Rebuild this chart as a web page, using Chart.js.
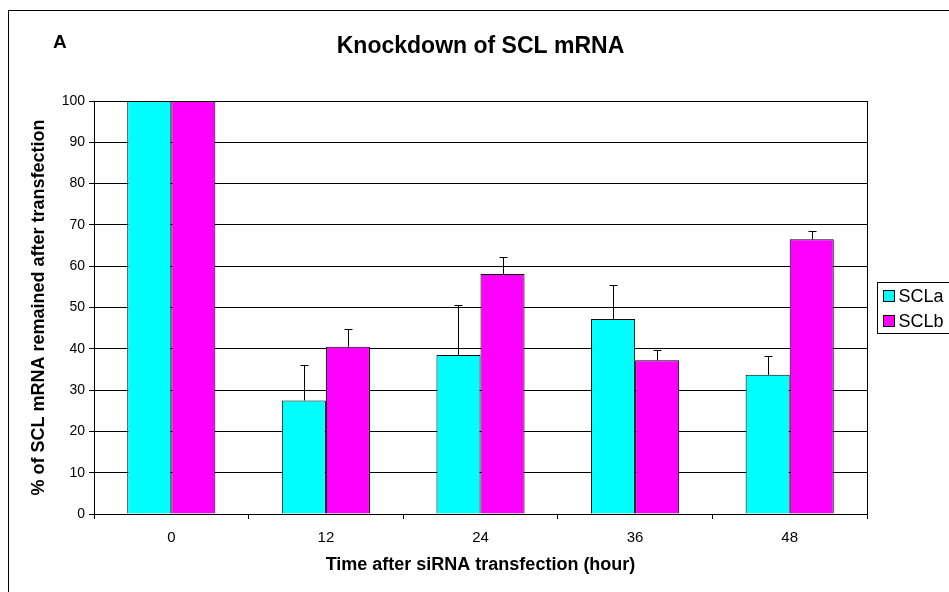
<!DOCTYPE html>
<html>
<head>
<meta charset="utf-8">
<script src="https://cdn.jsdelivr.net/npm/chart.js@4.4.1/dist/chart.umd.min.js"></script>
<style>
  html, body { margin: 0; padding: 0; background: #fff; }
  canvas { display: block; }
</style>
</head>
<body>
<canvas id="knockdownChart" width="949" height="592"></canvas>
<script>
// data
const hours = ["0", "12", "24", "36", "48"];
const sclaValues = [100, 27.5, 38.5, 47.2, 33.7];
const sclbValues = [100, 40.5, 58.1, 37.2, 66.5];
const sclaErrors = [0, 8.6, 12.1, 8.2, 4.5];
const sclbErrors = [0, 4.2, 4.1, 2.5, 2.0];
const yTicks = [0, 10, 20, 30, 40, 50, 60, 70, 80, 90, 100];

const FONT = "'Liberation Sans', Arial, Helvetica, sans-serif";

// outer frame + panel letter
const framePlugin = {
    id: "frame",
    beforeDraw(chart) {
        const ctx = chart.ctx;
        ctx.save();
        ctx.fillStyle = "#fff";
        ctx.fillRect(0, 0, chart.width, chart.height);
        ctx.strokeStyle = "#000";
        ctx.lineWidth = 1;
        ctx.strokeRect(8.5, 10.5, chart.width + 20, chart.height + 20);
        ctx.restore();
    },
    afterDraw(chart) {
        const ctx = chart.ctx;
        const area = chart.chartArea;
        ctx.save();
        // right border of plot area
        ctx.strokeStyle = "#000";
        ctx.lineWidth = 1;
        ctx.beginPath();
        ctx.moveTo(Math.round(area.right) + 0.5, area.top);
        ctx.lineTo(Math.round(area.right) + 0.5, area.bottom + 5);
        ctx.stroke();
        // panel letter
        ctx.fillStyle = "#000";
        ctx.font = "bold 19px " + FONT;
        ctx.textBaseline = "alphabetic";
        ctx.fillText("A", 53, 48);
        ctx.restore();
    }
};

// error bars (upper only), placed through the y scale
const errorBarPlugin = {
    id: "errorBars",
    afterDatasetsDraw(chart) {
        const ctx = chart.ctx;
        const yScale = chart.scales.y;
        const errs = [sclaErrors, sclbErrors];
        ctx.save();
        ctx.strokeStyle = "#000";
        ctx.lineWidth = 1;
        chart.data.datasets.forEach((ds, i) => {
            const meta = chart.getDatasetMeta(i);
            meta.data.forEach((bar, j) => {
                const e = errs[i][j];
                if (!e) return;
                const x = Math.round(bar.x) + 0.5;
                const yTop = Math.round(yScale.getPixelForValue(ds.data[j] + e)) + 0.5;
                ctx.beginPath();
                ctx.moveTo(x, bar.y);
                ctx.lineTo(x, yTop);
                ctx.moveTo(x - 4, yTop);
                ctx.lineTo(x + 4, yTop);
                ctx.stroke();
            });
        });
        ctx.restore();
    }
};

// legend box at the right edge
const legendBoxPlugin = {
    id: "legendBox",
    afterDraw(chart) {
        const ctx = chart.ctx;
        const bx = 877.5, by = 282.5;
        ctx.save();
        ctx.strokeStyle = "#000";
        ctx.lineWidth = 1;
        ctx.strokeRect(bx, by, 100, 51);
        ctx.font = "18px " + FONT;
        ctx.textBaseline = "middle";
        chart.data.datasets.forEach((ds, i) => {
            const cy = by + 13.5 + i * 25;
            ctx.fillStyle = ds.backgroundColor;
            ctx.fillRect(bx + 6, cy - 5.5, 11, 11);
            ctx.strokeRect(bx + 6, cy - 5.5, 11, 11);
            ctx.fillStyle = "#000";
            ctx.fillText(ds.label, bx + 21, cy + 1);
        });
        ctx.restore();
    }
};

function initChart() {
    let canvas = document.getElementById("knockdownChart").getContext("2d");
    new Chart(canvas, {
        type: "bar",
        data: {
            labels: hours,
            datasets: [{
                label: "SCLa",
                data: sclaValues,
                backgroundColor: "#00ffff",
                borderColor: "#000",
                borderWidth: 1,
                borderSkipped: "bottom",
                barPercentage: 1,
                categoryPercentage: 0.57
            }, {
                label: "SCLb",
                data: sclbValues,
                backgroundColor: "#ff00ff",
                borderColor: "#000",
                borderWidth: 1,
                borderSkipped: "bottom",
                barPercentage: 1,
                categoryPercentage: 0.57
            }]
        },
        options: {
            responsive: false,
            animation: false,
            layout: {
                padding: { left: 0, right: 82, top: 0, bottom: 0 }
            },
            plugins: {
                legend: { display: false },
                tooltip: { enabled: false },
                title: {
                    display: true,
                    fullSize: false,
                    text: "Knockdown of SCL mRNA",
                    color: "#000",
                    font: { family: FONT, size: 23, weight: "bold", lineHeight: 1.2 },
                    padding: { top: 33, bottom: 40.4 }
                }
            },
            scales: {
                x: {
                    afterFit(scale) { scale.height = 78; },
                    grid: {
                        offset: true,
                        drawOnChartArea: false,
                        drawTicks: true,
                        tickLength: 5,
                        color: "#000"
                    },
                    border: { color: "#000", width: 1 },
                    ticks: {
                        color: "#000",
                        padding: 10,
                        font: { family: FONT, size: 15 }
                    },
                    title: {
                        display: true,
                        text: "Time after siRNA transfection (hour)",
                        color: "#000",
                        font: { family: FONT, size: 18, weight: "bold", lineHeight: 1.2 },
                        padding: { top: 0, bottom: 16 }
                    }
                },
                y: {
                    min: 0,
                    max: 100,
                    afterFit(scale) { scale.width = 94; },
                    afterBuildTicks(scale) {
                        scale.ticks = yTicks.map(v => ({ value: v }));
                    },
                    grid: {
                        color: "#000",
                        lineWidth: 1,
                        drawTicks: true,
                        tickLength: 5
                    },
                    border: { color: "#000", width: 1 },
                    ticks: {
                        color: "#000",
                        padding: 4,
                        font: { family: FONT, size: 14 }
                    },
                    title: {
                        display: true,
                        text: "% of SCL mRNA remained after transfection",
                        color: "#000",
                        font: { family: FONT, size: 18, weight: "bold", lineHeight: 1.2 },
                        padding: { top: 28, bottom: 0 }
                    }
                }
            }
        },
        plugins: [framePlugin, errorBarPlugin, legendBoxPlugin]
    });
}

initChart();
</script>
</body>
</html>
